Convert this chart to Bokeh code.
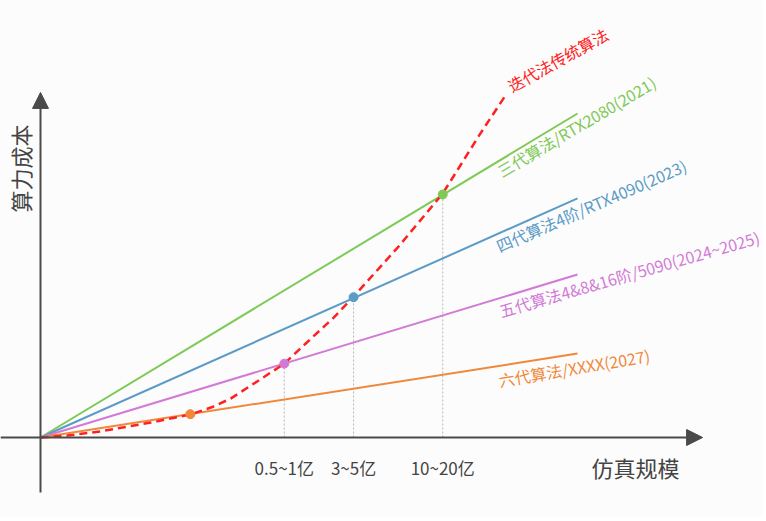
from bokeh.plotting import figure
from bokeh.models import Range1d, Arrow, NormalHead
from bokeh.core.properties import value
from bokeh.embed import file_html
from bokeh.resources import INLINE

# ---------------- data ----------------
x_end = [0, 10]
gen_names = ["三代算法/RTX2080(2021)", "四代算法4阶/RTX4090(2023)",
             "五代算法4&8&16阶/5090(2024~2025)", "六代算法/XXXX(2027)"]
gen_end_cost = [10.0, 7.38, 5.03, 2.59]
gen_colors = ["#7fc957", "#5b9bc7", "#d27ad6", "#f0883a"]

trad_name = "迭代法传统算法"
trad_x = [0, 0.50, 1.12, 2.05, 2.79, 3.20, 3.54, 4.10, 4.54, 5.08, 5.46, 5.83, 6.65, 7.49, 8.19, 8.66]
trad_y = [0, 0.06, 0.19, 0.46, 0.71, 0.94, 1.20, 1.80, 2.28, 3.12, 3.70, 4.35, 5.86, 7.53, 9.38, 10.56]

cross_x = [2.79, 4.54, 5.83, 7.49]
cross_y = [0.72, 2.28, 4.33, 7.50]
cross_colors = ["#f0883a", "#d27ad6", "#5b9bc7", "#7fc957"]

tick_x = [4.54, 5.83, 7.49]
tick_labels = ["0.5~1亿", "3~5亿", "10~20亿"]

x_title = "仿真规模"
y_title = "算力成本"

FONT = value("Noto Sans CJK SC")
AXIS_C = "#4a4a4a"

p = figure(width=762, height=517, output_backend="svg", toolbar_location=None,
           x_range=Range1d(-0.745, 13.445), y_range=Range1d(-2.469, 13.488),
           x_axis_location=None, y_axis_location=None, min_border=0,
           background_fill_color="#fcfcfc", border_fill_color="#fcfcfc",
           outline_line_color=None)
p.xgrid.visible = False
p.ygrid.visible = False

# dotted guides
for cx, cy in zip(cross_x[1:], cross_y[1:]):
    p.segment(x0=[cx], y0=[0], x1=[cx], y1=[cy], line_color="#b5b5b5",
              line_width=1, line_dash="2 2")

# axes
p.add_layout(Arrow(end=NormalHead(size=16, fill_color=AXIS_C, line_color=AXIS_C),
                   x_start=-0.745, y_start=0, x_end=12.33, y_end=0,
                   line_color=AXIS_C, line_width=2))
p.add_layout(Arrow(end=NormalHead(size=16, fill_color=AXIS_C, line_color=AXIS_C),
                   x_start=0, y_start=-1.70, x_end=0, y_end=10.65,
                   line_color=AXIS_C, line_width=2))

# generation lines
for cost, col in zip(gen_end_cost, gen_colors):
    p.line(x_end, [0, cost], line_color=col, line_width=2)

# traditional curve
p.line(trad_x, trad_y, line_color="#ff2020", line_width=2.5, line_dash="8 5")

# crossing dots
p.scatter(cross_x, cross_y, size=9, fill_color=cross_colors, line_color=cross_colors)

# series labels
lab_x = [8.645, 8.59, 8.61, 8.57]
lab_y = [7.87, 5.56, 3.55, 1.40]
lab_ang = [30.5, 23.5, 16, 9.5]
for name, col, lx, ly, ang in zip(gen_names, gen_colors, lab_x, lab_y, lab_ang):
    p.text(x=[lx], y=[ly], text=[name], angle=ang, angle_units="deg",
           text_color=col, text_font=FONT, text_font_size="16px",
           text_align="left", text_baseline="bottom")
p.text(x=[8.83], y=[10.50], text=[trad_name], angle=29, angle_units="deg",
       text_color="#ff2020", text_font=FONT, text_font_size="16px",
       text_align="left", text_baseline="bottom")

# tick labels
p.text(x=tick_x, y=[-0.93] * len(tick_x), text=tick_labels, text_color="#444444",
       text_font=FONT, text_font_size="17px", text_align="center",
       text_baseline="middle")

# axis titles
p.text(x=[11.08], y=[-0.90], text=[x_title], text_color="#444444", text_font=FONT,
       text_font_size="22px", text_align="center", text_baseline="middle")
p.text(x=[-0.39], y=[8.30], text=[y_title], angle=90, angle_units="deg",
       text_color="#444444", text_font=FONT, text_font_size="22px",
       text_align="center", text_baseline="middle")

open("out.html", "w").write(file_html(p, INLINE))
